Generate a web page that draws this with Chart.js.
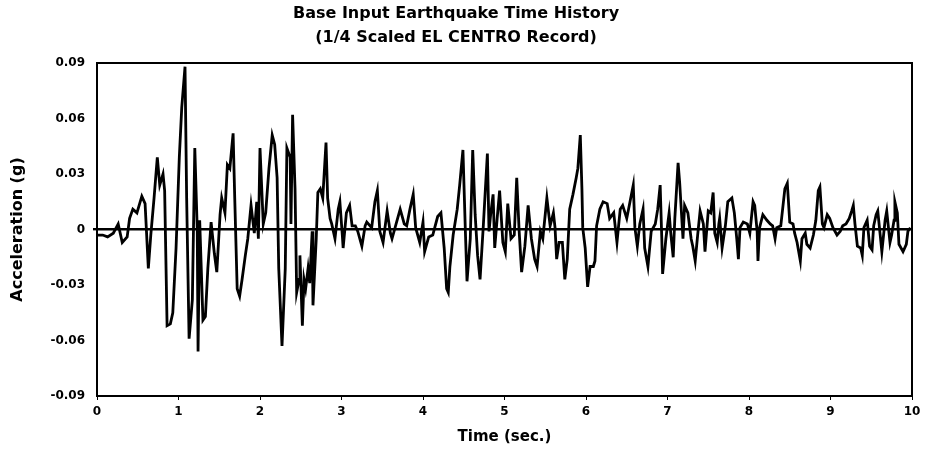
<!DOCTYPE html>
<html>
<head>
<meta charset="utf-8">
<title>Base Input Earthquake Time History</title>
<script src="https://cdn.jsdelivr.net/npm/chart.js@4.4.0/dist/chart.umd.min.js"></script>
<style>
    html, body { margin: 0; padding: 0; background: #fff; }
    #wrap { width: 929px; height: 450px; }
</style>
</head>
<body>
<div id="wrap"><canvas id="quakeChart" width="929" height="450"></canvas></div>
<script>
"use strict";

// Time of each read-off point (sec.)
const times = [
    0, 0.07, 0.13, 0.20, 0.26, 0.31, 0.37, 0.40, 0.44, 0.49,
    0.55, 0.59, 0.63, 0.66, 0.70, 0.74, 0.77, 0.81, 0.83, 0.86,
    0.90, 0.93, 0.97, 1.01, 1.04, 1.08, 1.10, 1.13, 1.17, 1.20,
    1.23, 1.24, 1.26, 1.30, 1.33, 1.36, 1.40, 1.44, 1.47, 1.51,
    1.53, 1.57, 1.60, 1.63, 1.67, 1.69, 1.72, 1.75, 1.78, 1.82,
    1.85, 1.89, 1.93, 1.96, 1.98, 2.00, 2.04, 2.07, 2.11, 2.15,
    2.18, 2.21, 2.23, 2.27, 2.31, 2.33, 2.37, 2.38, 2.40, 2.43,
    2.45, 2.48, 2.49, 2.52, 2.54, 2.56, 2.59, 2.61, 2.64, 2.65,
    2.69, 2.71, 2.74, 2.77, 2.81, 2.83, 2.86, 2.88, 2.92, 2.96,
    2.98, 3.01, 3.02, 3.06, 3.10, 3.13, 3.17, 3.20, 3.25, 3.29,
    3.31, 3.37, 3.41, 3.44, 3.47, 3.51, 3.56, 3.60, 3.62, 3.67,
    3.72, 3.77, 3.80, 3.84, 3.88, 3.91, 3.96, 4.00, 4.02, 4.07,
    4.12, 4.18, 4.22, 4.26, 4.29, 4.31, 4.33, 4.37, 4.42, 4.45,
    4.49, 4.52, 4.54, 4.58, 4.61, 4.64, 4.67, 4.70, 4.74, 4.79,
    4.81, 4.83, 4.86, 4.88, 4.91, 4.94, 4.98, 5.01, 5.04, 5.08,
    5.12, 5.15, 5.18, 5.21, 5.25, 5.29, 5.33, 5.37, 5.40, 5.44,
    5.47, 5.52, 5.56, 5.60, 5.62, 5.64, 5.67, 5.71, 5.74, 5.77,
    5.80, 5.84, 5.88, 5.90, 5.93, 5.95, 5.96, 5.99, 6.02, 6.05,
    6.09, 6.11, 6.13, 6.17, 6.21, 6.26, 6.29, 6.34, 6.38, 6.42,
    6.45, 6.50, 6.54, 6.58, 6.60, 6.63, 6.66, 6.70, 6.72, 6.76,
    6.80, 6.85, 6.88, 6.91, 6.93, 6.94, 6.98, 7.02, 7.04, 7.07,
    7.09, 7.13, 7.15, 7.19, 7.21, 7.25, 7.29, 7.31, 7.34, 7.37,
    7.40, 7.44, 7.46, 7.50, 7.53, 7.56, 7.58, 7.61, 7.63, 7.64,
    7.67, 7.71, 7.74, 7.79, 7.82, 7.85, 7.87, 7.89, 7.93, 7.98,
    8.01, 8.05, 8.07, 8.10, 8.11, 8.13, 8.17, 8.22, 8.26, 8.29,
    8.32, 8.34, 8.39, 8.44, 8.47, 8.50, 8.54, 8.56, 8.59, 8.63,
    8.65, 8.69, 8.71, 8.75, 8.79, 8.82, 8.85, 8.87, 8.90, 8.92,
    8.96, 8.99, 9.03, 9.08, 9.12, 9.15, 9.19, 9.23, 9.26, 9.28,
    9.30, 9.33, 9.37, 9.39, 9.41, 9.45, 9.48, 9.51, 9.53, 9.56,
    9.58, 9.61, 9.63, 9.67, 9.69, 9.73, 9.75, 9.78, 9.79, 9.82,
    9.84, 9.89, 9.93, 9.95, 9.98
];

// Acceleration at each time (g)
const accel = [
    -0.003, -0.003, -0.004, -0.002, 0.003, -0.007, -0.004, 0.006, 0.011, 0.009,
    0.018, 0.014, -0.021, -0.003, 0.017, 0.039, 0.024, 0.030, 0.021, -0.052,
    -0.051, -0.045, -0.010, 0.039, 0.066, 0.088, 0.017, -0.059, -0.038, 0.044,
    0.000, -0.066, 0.005, -0.049, -0.047, -0.021, 0.004, -0.013, -0.023, 0.008,
    0.017, 0.009, 0.035, 0.033, 0.052, 0.017, -0.032, -0.036, -0.027, -0.014,
    -0.005, 0.013, -0.002, 0.015, -0.005, 0.044, 0.003, 0.009, 0.033, 0.051,
    0.046, 0.028, -0.021, -0.063, -0.021, 0.044, 0.039, 0.003, 0.062, 0.022,
    -0.034, -0.027, -0.014, -0.052, -0.027, -0.032, -0.021, -0.029, -0.001, -0.041,
    -0.005, 0.020, 0.022, 0.017, 0.047, 0.017, 0.006, 0.003, -0.005, 0.011,
    0.015, -0.003, -0.010, 0.009, 0.013, 0.002, 0.002, -0.001, -0.009, 0.002,
    0.004, 0.001, 0.015, 0.021, -0.001, -0.007, 0.010, -0.002, -0.005, 0.003,
    0.011, 0.003, 0.002, 0.011, 0.019, 0.001, -0.007, 0.004, -0.012, -0.004,
    -0.003, 0.007, 0.009, -0.010, -0.032, -0.034, -0.020, -0.003, 0.011, 0.024,
    0.043, -0.001, -0.028, -0.005, 0.043, 0.008, -0.014, -0.027, 0.002, 0.041,
    -0.001, 0.008, 0.019, -0.010, 0.006, 0.021, -0.007, -0.012, 0.014, -0.005,
    -0.003, 0.028, -0.001, -0.023, -0.009, 0.013, -0.005, -0.016, -0.020, -0.001,
    -0.005, 0.017, 0.002, 0.009, 0.001, -0.016, -0.007, -0.007, -0.027, -0.016,
    0.011, 0.019, 0.028, 0.033, 0.051, 0.022, 0.001, -0.010, -0.031, -0.020,
    -0.020, -0.017, 0.002, 0.011, 0.015, 0.014, 0.006, 0.009, -0.007, 0.011,
    0.013, 0.006, 0.015, 0.024, 0.001, -0.009, 0.003, 0.011, -0.010, -0.020,
    -0.001, 0.003, 0.011, 0.024, -0.005, -0.024, -0.005, 0.009, -0.002, -0.015,
    0.006, 0.036, 0.025, -0.005, 0.013, 0.009, -0.005, -0.009, -0.017, -0.003,
    0.010, 0.003, -0.012, 0.010, 0.009, 0.020, -0.002, -0.007, 0.003, 0.006,
    -0.010, 0.002, 0.015, 0.017, 0.009, -0.005, -0.016, 0.001, 0.004, 0.003,
    -0.002, 0.015, 0.013, -0.001, -0.017, 0.001, 0.008, 0.005, 0.003, 0.002,
    -0.005, 0.001, 0.002, 0.022, 0.025, 0.004, 0.003, -0.002, -0.007, -0.017,
    -0.005, -0.002, -0.008, -0.010, -0.003, 0.005, 0.021, 0.023, 0.003, 0.001,
    0.008, 0.006, 0.001, -0.003, -0.001, 0.002, 0.003, 0.006, 0.010, 0.013,
    0.003, -0.009, -0.010, -0.014, 0.001, 0.005, -0.009, -0.011, 0.002, 0.008,
    0.010, -0.003, -0.012, 0.005, 0.010, -0.007, -0.003, 0.005, 0.015, 0.009,
    -0.008, -0.012, -0.008, -0.001, 0.001
];

// Axis tick values
const timeTicks = [0, 1, 2, 3, 4, 5, 6, 7, 8, 9, 10];
const accelTicks = [-0.09, -0.06, -0.03, 0, 0.03, 0.06, 0.09];

const titleLines = ['Base Input Earthquake Time History', '(1/4 Scaled EL CENTRO Record)'];

const points = times.map((t, i) => ({ x: t, y: accel[i] }));

// Draws the closed box round the plot area
const frameBox = {
    id: 'frameBox',
    afterDraw(chart) {
        const a = chart.chartArea;
        const ctx = chart.ctx;
        ctx.save();
        ctx.strokeStyle = '#000';
        ctx.lineWidth = 2;
        ctx.strokeRect(a.left, a.top, a.right - a.left, a.bottom - a.top);
        ctx.restore();
    }
};

const fontFamily = '"DejaVu Sans", "Liberation Sans", Arial, sans-serif';

const ctx = document.getElementById('quakeChart').getContext('2d');
new Chart(ctx, {
    type: 'line',
    data: {
        datasets: [{
            label: 'Acceleration',
            data: points,
            borderColor: '#000',
            borderWidth: 2.8,
            pointRadius: 0,
            tension: 0,
            fill: false
        }]
    },
    options: {
        responsive: false,
        animation: false,
        events: [],
        layout: { padding: { left: 0, right: 17, top: 0, bottom: 0 } },
        plugins: {
            legend: { display: false },
            tooltip: { enabled: false },
            title: {
                display: true,
                text: titleLines,
                color: '#000',
                font: { family: fontFamily, size: 16, weight: 'bold', lineHeight: 1.5 },
                padding: { top: 2, bottom: 13 }
            }
        },
        scales: {
            x: {
                type: 'linear',
                min: 0,
                max: 10,
                afterBuildTicks: scale => { scale.ticks = timeTicks.map(v => ({ value: v })); },
                afterFit: scale => { scale.height = 54; },
                ticks: {
                    color: '#000',
                    font: { family: fontFamily, size: 12, weight: 'bold' },
                    maxRotation: 0,
                    padding: 5
                },
                grid: {
                    display: true,
                    drawOnChartArea: false,
                    drawTicks: true,
                    tickLength: 4,
                    tickColor: '#000'
                },
                border: { display: true, color: '#000', width: 2 },
                title: {
                    display: true,
                    text: 'Time (sec.)',
                    color: '#000',
                    font: { family: fontFamily, size: 15, weight: 'bold' },
                    padding: { top: 0 }
                }
            },
            y: {
                type: 'linear',
                min: -0.09,
                max: 0.09,
                afterBuildTicks: scale => { scale.ticks = accelTicks.map(v => ({ value: v })); },
                afterFit: scale => { scale.width = 97; },
                ticks: {
                    color: '#000',
                    font: { family: fontFamily, size: 12, weight: 'bold' },
                    padding: 8,
                    callback: v => (Math.abs(v) < 1e-9 ? '0' : Number(v).toFixed(2))
                },
                grid: {
                    drawTicks: true,
                    tickLength: 4,
                    tickColor: '#000',
                    lineWidth: c => (c.tick && Math.abs(c.tick.value) < 1e-9 ? 2.4 : 0),
                    color: c => (c.tick && Math.abs(c.tick.value) < 1e-9 ? '#000' : 'rgba(0,0,0,0)')
                },
                border: { display: true, color: '#000', width: 2 },
                title: {
                    display: true,
                    text: 'Acceleration (g)',
                    color: '#000',
                    font: { family: fontFamily, size: 16, weight: 'bold' },
                    padding: { top: 8, bottom: 4 }
                }
            }
        }
    },
    plugins: [frameBox]
});
</script>
</body>
</html>
